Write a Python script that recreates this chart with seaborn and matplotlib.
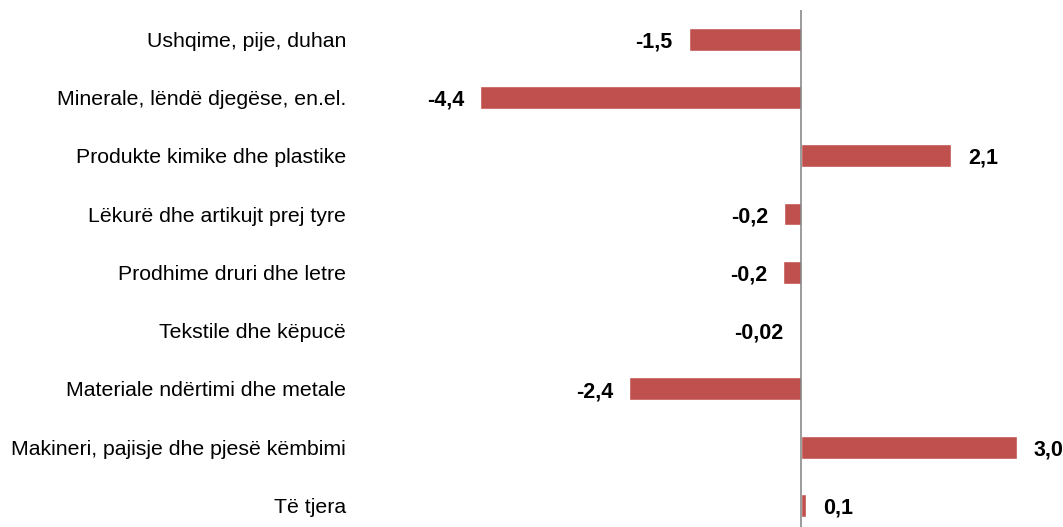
import numpy as np
import pandas as pd
import seaborn as sns
import matplotlib.pyplot as plt

# categories, bar values and printed labels
categories = [
    "Ushqime, pije, duhan",
    "Minerale, lëndë djegëse, en.el.",
    "Produkte kimike dhe plastike",
    "Lëkurë dhe artikujt prej tyre",
    "Prodhime druri dhe letre",
    "Tekstile dhe këpucë",
    "Materiale ndërtimi dhe metale",
    "Makineri, pajisje dhe pjesë këmbimi",
    "Të tjera",
]
values = [-1.55, -4.42, 2.07, -0.23, -0.25, -0.02, -2.37, 2.97, 0.07]
value_labels = ["-1,5", "-4,4", "2,1", "-0,2", "-0,2", "-0,02", "-2,4", "3,0", "0,1"]

bar_color = "#C0504D"

sns.set_style("white")
plt.rcParams['font.family'] = ['Liberation Sans', 'DejaVu Sans']
plt.rcParams['text.color'] = 'black'
plt.rcParams['ytick.color'] = 'black'

fig = plt.figure(figsize=(10.63, 5.27), dpi=100)
ax = fig.add_axes([360 / 1063, 0, 703 / 1063, 517 / 527])

df = pd.DataFrame({"category": categories, "value": values})
sns.barplot(data=df, x="value", y="category", color=bar_color, saturation=1,
            width=0.39, orient="h", ax=ax)

ax.set_xlim(-6.08, 3.61)
ax.set_ylim(8.37, -0.5)
ax.axvline(0, color="#808080", lw=1.1, zorder=3)

# value labels at bar ends
for i, (v, lab) in enumerate(zip(values, value_labels)):
    if v < 0:
        ax.annotate(lab, (v, i), xytext=(-11.5, -2), textcoords="offset points",
                    ha="right", va="center", fontsize=15.5, fontweight="bold",
                    color="black")
    else:
        ax.annotate(lab, (v, i), xytext=(12, -2), textcoords="offset points",
                    ha="left", va="center", fontsize=15.5, fontweight="bold",
                    color="black")

ax.set_xlabel("")
ax.set_ylabel("")
ax.set_xticks([])
ax.tick_params(axis="y", length=0, pad=10, labelsize=15.3, labelcolor="black")
for s in ax.spines.values():
    s.set_visible(False)

fig.savefig("out.png", dpi=100)
